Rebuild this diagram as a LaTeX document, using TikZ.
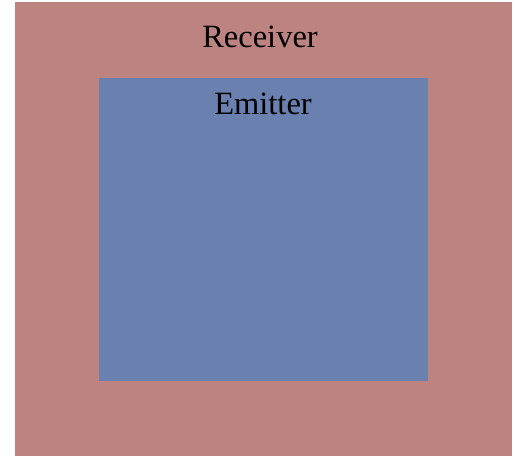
\documentclass[tikz,border=0pt]{standalone}
\usepackage{fontspec}
\setmainfont{Liberation Serif}
\definecolor{receiverfill}{RGB}{189,131,128}
\definecolor{emitterfill}{RGB}{106,128,174}
\tikzset{
  region/.style={draw=none, inner sep=0pt},
  regionlabel/.style={font=\fontsize{32.5}{38}\selectfont, text=black, anchor=base, inner sep=0pt}
}
\begin{document}
\begin{tikzpicture}[x=1pt, y=-1pt]
  \useasboundingbox (0,0) rectangle (518,457);
  % outer receiver surface
  \fill[receiverfill] (15,2) rectangle (512,456);
  % inner emitter surface
  \fill[emitterfill] (98.7,78) rectangle (428,380.7);
  \node[regionlabel] (receiver) at (260,48) {Receiver};
  \node[regionlabel] (emitter) at (263,115) {Emitter};
\end{tikzpicture}
\end{document}
